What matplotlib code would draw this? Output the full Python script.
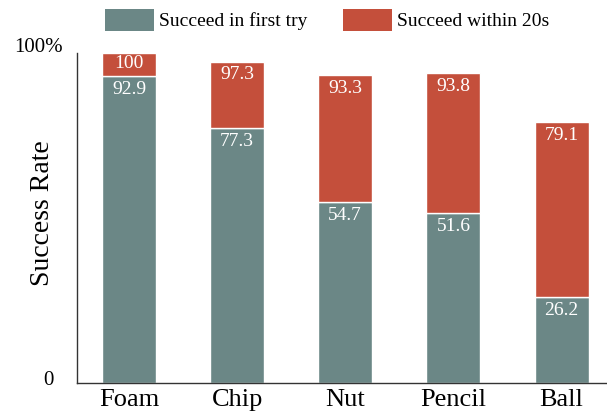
import matplotlib
matplotlib.use('Agg')
import numpy as np
import matplotlib.pyplot as plt
import matplotlib.transforms as mtransforms
from matplotlib.patches import Patch

# values
objects = ['Foam', 'Chip', 'Nut', 'Pencil', 'Ball']
first_try = [92.9, 77.3, 54.7, 51.6, 26.2]
within_20s = [100, 97.3, 93.3, 93.8, 79.1]

teal = '#6b8786'
red = '#c44f3b'

plt.rcParams['font.family'] = ['Liberation Serif', 'DejaVu Serif']

fig = plt.figure(figsize=(6.07, 4.15), dpi=100)
ax = fig.add_axes([0.1264, 0.0764, 0.8736, 0.7966])

x = np.arange(len(objects))
extra = np.array(within_20s) - np.array(first_try)
ax.bar(x, first_try, width=0.5, color=teal, edgecolor='white', linewidth=1)
ax.bar(x, extra, bottom=first_try, width=0.5, color=red, edgecolor='white', linewidth=1)

for i in range(len(objects)):
    ax.annotate(f'{first_try[i]:g}', (x[i], first_try[i]), xytext=(0, -3.5),
                textcoords='offset points', ha='center', va='top',
                color='white', fontsize=14)
    if extra[i] < 10:
        ax.text(x[i], (within_20s[i] + first_try[i]) / 2 + 0.4, f'{within_20s[i]:g}',
                ha='center', va='center', color='white', fontsize=14)
    else:
        ax.annotate(f'{within_20s[i]:g}', (x[i], within_20s[i]), xytext=(0, -3.5),
                    textcoords='offset points', ha='center', va='top',
                    color='white', fontsize=14)

ax.set_xlim(-0.483, 4.42)
ax.set_ylim(0, 100)
ax.set_xticks(x)
ax.set_xticklabels(objects, fontsize=19)
ax.set_yticks([])
ax.tick_params(axis='both', length=0)
ax.tick_params(axis='x', pad=4)

# y tick labels placed by hand, as in the reference they sit a bit off the ticks
trans = mtransforms.blended_transform_factory(ax.transAxes, ax.transData)
ax.text(-0.026, 101.7, '100%', transform=trans, ha='right', va='center', fontsize=15)
ax.text(-0.043, 0.7, '0', transform=trans, ha='right', va='center', fontsize=15)

ax.set_ylabel('Success Rate', fontsize=20)
ax.yaxis.set_label_coords(-0.041, 0.515)

for s in ['top', 'right']:
    ax.spines[s].set_visible(False)
for s in ['left', 'bottom']:
    ax.spines[s].set_color('#333333')
    ax.spines[s].set_linewidth(1)

handles = [Patch(facecolor=teal, label='Succeed in first try'),
           Patch(facecolor=red, label='Succeed within 20s')]
fig.legend(handles=handles, loc='center', bbox_to_anchor=(0.539, 0.952), ncol=2,
           frameon=False, fontsize=14, handlelength=2.52, handleheight=1.35,
           handletextpad=0.25, columnspacing=1.85, borderaxespad=0)

fig.savefig('out.png', dpi=100)
